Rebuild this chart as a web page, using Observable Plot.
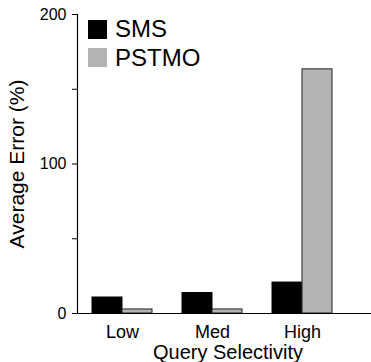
<!DOCTYPE html>
<html>
<head>
<meta charset="utf-8">
<script src="https://cdn.jsdelivr.net/npm/d3@7"></script>
<script src="https://cdn.jsdelivr.net/npm/@observablehq/plot@0.6"></script>
<style>
  html, body { margin: 0; padding: 0; background: #fff; }
  #wrap { position: relative; width: 371px; height: 362px; font-family: "Liberation Sans", Arial, sans-serif; }
  #legend { position: absolute; left: 88px; top: 15px; font-size: 24px; line-height: 28.5px; color: #000; }
  .item { display: flex; align-items: center; height: 28.5px; }
  .sw { width: 19px; height: 19px; margin-right: 8px; }
</style>
</head>
<body>
<div id="wrap"><div id="chart"></div><div id="legend"></div></div>
<script>
const categories = ["Low", "Med", "High"];
const series = ["SMS", "PSTMO"];
const smsValues = [10.7, 13.7, 20.7];
const pstmoValues = [2.7, 2.7, 163.3];
const yTicks = [0, 50, 100, 150, 200];
const yTickLabels = [0, 100, 200];
const colors = ["#000000", "#b3b3b3"];

const smsData = categories.map((c, i) => ({cat: c, value: smsValues[i]}));
const pstmoData = categories.map((c, i) => ({cat: c, value: pstmoValues[i]}));

const W = 371, H = 362, ML = 77, MT = 14, MB = 49;
const font = "'Liberation Sans', Arial, sans-serif";
const chart = Plot.plot({
  width: W,
  height: H,
  marginLeft: ML,
  marginRight: 0,
  marginTop: MT,
  marginBottom: MB,
  style: {fontFamily: font, background: "white", color: "#000"},
  x: {domain: categories, range: [ML, 347], paddingInner: 0.337, paddingOuter: 0.16, axis: null},
  y: {domain: [0, 200], axis: null},
  marks: [
    Plot.barY(smsData, {x: "cat", y: "value", fill: colors[0], stroke: "#000", strokeWidth: 1, insetRight: 30}),
    Plot.barY(pstmoData, {x: "cat", y: "value", fill: colors[1], stroke: "#222", strokeWidth: 1, insetLeft: 30}),
    Plot.axisY({ticks: yTicks, tickSize: 5, tickPadding: 6, fontSize: 16, label: null,
      tickFormat: d => yTickLabels.includes(d) ? String(d) : ""}),
    Plot.axisX({tickSize: 0, tickPadding: 12, fontSize: 18, label: null}),
    Plot.ruleY([0], {stroke: "#000"}),
    Plot.text(["Query Selectivity"], {frameAnchor: "bottom", textAnchor: "middle", dx: 3.5, dy: 45, fontSize: 20, lineAnchor: "bottom"}),
    Plot.text(["Average Error (%)"], {frameAnchor: "left", textAnchor: "middle", lineAnchor: "middle", dx: -60, rotate: -90, fontSize: 21})
  ]
});
document.getElementById("chart").appendChild(chart);
// y-axis line along the left edge of the plot frame
const line = document.createElementNS("http://www.w3.org/2000/svg", "line");
line.setAttribute("x1", ML + 0.5);
line.setAttribute("x2", ML + 0.5);
line.setAttribute("y1", MT);
line.setAttribute("y2", H - MB);
line.setAttribute("stroke", "#000");
line.setAttribute("stroke-width", "1.2");
chart.appendChild(line);

const legend = document.getElementById("legend");
series.forEach((s, i) => {
  const item = document.createElement("div");
  item.className = "item";
  const sw = document.createElement("span");
  sw.className = "sw";
  sw.style.background = colors[i];
  item.appendChild(sw);
  item.appendChild(document.createTextNode(s));
  legend.appendChild(item);
});
</script>
</body>
</html>
